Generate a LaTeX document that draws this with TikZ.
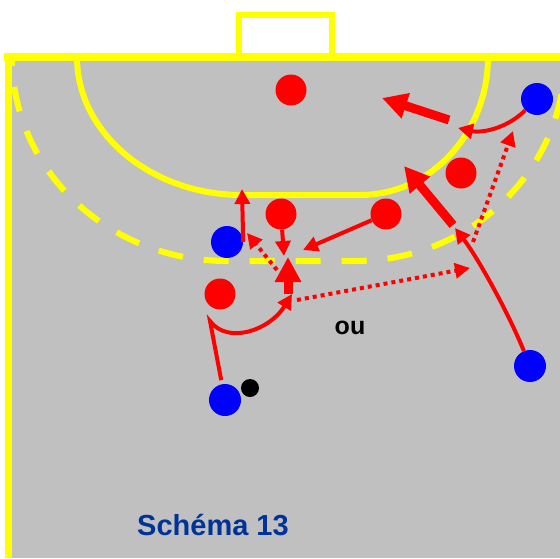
\documentclass[tikz,border=0pt]{standalone}
\usepackage{fontspec}
\setmainfont{Liberation Sans}
\usetikzlibrary{arrows.meta}
\definecolor{courtgray}{RGB}{192,192,192}
\definecolor{courtline}{RGB}{255,255,0}
\definecolor{schemablue}{RGB}{0,51,153}

\begin{document}
\begin{tikzpicture}[x=1pt,y=-1pt,
    defender/.style={circle, fill=red, minimum size=31pt, inner sep=0pt},
    attacker/.style={circle, fill=blue, minimum size=32pt, inner sep=0pt},
    run/.style={draw=red, line width=4pt, -{Triangle[length=15pt,width=15pt]}},
    thickrun/.style={draw=red, line width=9pt, -{Triangle[length=25pt,width=25pt]}},
    passline/.style={draw=red, line width=4pt, dash pattern=on 4pt off 4pt, -{Triangle[length=15pt,width=15pt]}}]
\useasboundingbox (0,0) rectangle (560,558);
\fill[white] (0,0) rectangle (560,558);
% court
\fill[courtgray] (8,57) rectangle (560,558);
\draw[courtline, line width=6pt] (239,57) -- (239,15) -- (332,15) -- (332,57);
\draw[courtline, line width=8pt] (4,57) -- (560,57);
\draw[courtline, line width=7pt] (8,53) -- (8,558);
% 6 m
\draw[courtline, line width=6pt] (77,57) .. controls (77,133) and (151,195) .. (242,195)
    -- (360,195) .. controls (431,195) and (488,133) .. (488,57);
% 9 m
\begin{scope}
  \clip (11,61) rectangle (560,558);
  \draw[courtline, line width=6pt, dash pattern=on 25pt off 21pt, dash phase=16pt]
    (12,57) .. controls (12,170) and (108,261) .. (227,261)
    -- (355,261) .. controls (471,261) and (565,170) .. (565,57);
\end{scope}
% players
\node[defender] (d1) at (291,90) {};
\node[defender] (d2) at (461,173) {};
\node[defender] (d3) at (386,214) {};
\node[defender] (d4) at (281,214) {};
\node[defender] (d5) at (220,294) {};
\node[attacker] (a1) at (537,99) {};
\node[attacker] (a2) at (227,242) {};
\node[attacker] (a3) at (225,400) {};
\node[attacker] (a4) at (530,366) {};
\node[circle, fill=black, minimum size=18pt, inner sep=0pt] (ball) at (250,388) {};
% moves
\coordinate (a3turn) at (210,321);
\coordinate (a3end) at (292,294);
\coordinate (a2end) at (242,189);
\coordinate (d4end) at (284,256);
\coordinate (d3end) at (303,250);
\coordinate (a4end) at (455,228);
\coordinate (a1end) at (458,128);
\coordinate (pivot) at (288,294);
\coordinate (pivottop) at (288,257);
\coordinate (wingin) at (453,225);
\coordinate (wingout) at (404,166);
\coordinate (backin) at (449,120);
\coordinate (backout) at (382,98);
\coordinate (passa) at (277,270);
\coordinate (passaend) at (247,233);
\coordinate (passb) at (297,300);
\coordinate (passbend) at (470,268);
\coordinate (passc) at (473,242);
\coordinate (passcend) at (513,131);
\draw[run, shorten <=4pt] (a3) -- (a3turn) .. controls (228,345) and (270,330) .. (a3end);
\draw[thickrun] (pivot) -- (pivottop);
\draw[run] (d4) -- (d4end);
\draw[run] (d3) -- (d3end);
\draw[run] (a2.east) -- (a2end);
\draw[passline] (passa) -- (passaend);
\draw[passline] (passb) -- (passbend);
\draw[run] (a4) .. controls (508,312) and (478,258) .. (a4end);
\draw[thickrun] (wingin) -- (wingout);
\draw[passline] (passc) -- (passcend);
\draw[run] (a1) .. controls (505,130) and (480,133) .. (a1end);
\draw[thickrun] (backin) -- (backout);
% texts
\node[anchor=base, inner sep=0pt, font=\bfseries\fontsize{25}{30}\selectfont] (ou) at (350,334) {ou};
\node[anchor=base west, inner sep=0pt, text=schemablue, font=\bfseries\fontsize{29}{34}\selectfont] (title) at (137,535) {Schéma 13};
\end{tikzpicture}
\end{document}
